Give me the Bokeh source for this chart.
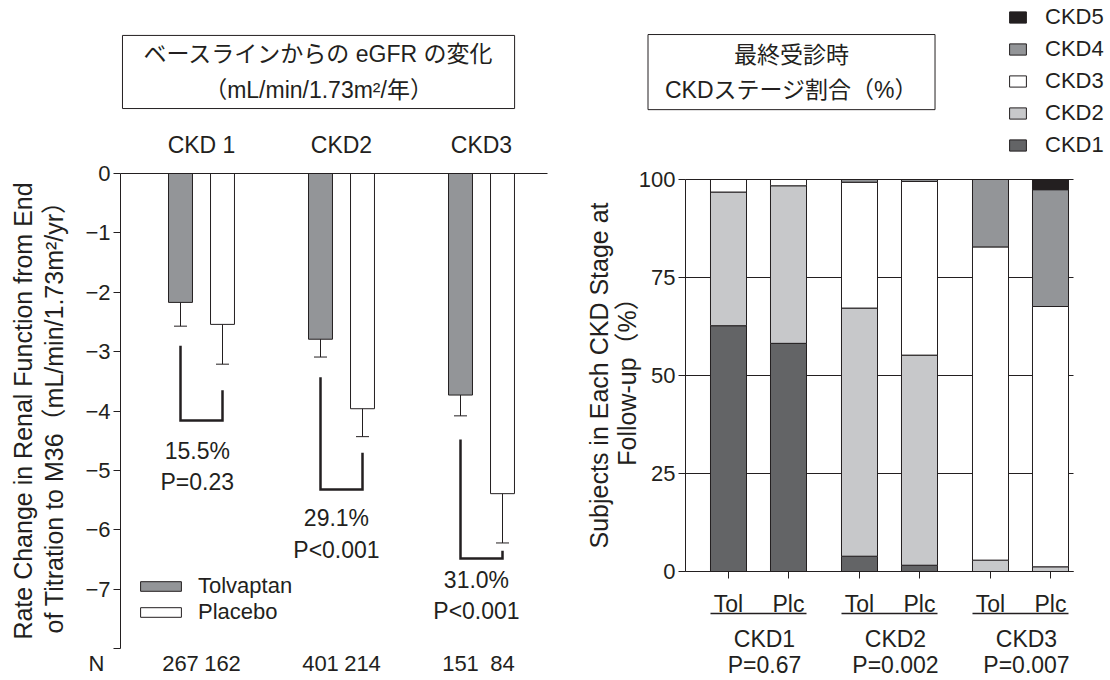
from bokeh.plotting import figure
from bokeh.models import (Range1d, FixedTicker, Whisker, TeeHead, ColumnDataSource,
                          Legend, LegendItem, Label, LabelSet)
from bokeh.layouts import row
from bokeh.embed import file_html
from bokeh.resources import INLINE
from bokeh.core.properties import value

# ---------------- data: left panel (eGFR slope) ----------------
groups_left = ["CKD 1", "CKD2", "CKD3"]
tol_mean = [-2.17, -2.79, -3.73]
tol_err_hi = [-1.72, -2.47, -3.26]
tol_err_lo = [-2.57, -3.09, -4.08]
plc_mean = [-2.54, -3.96, -5.39]
plc_err_hi = [-1.94, -3.36, -4.56]
plc_err_lo = [-3.21, -4.43, -6.22]
n_tol = ["267", "401", "151"]
n_plc = ["162", "214", "84"]
reduction = ["15.5%", "29.1%", "31.0%"]
p_left = ["P=0.23", "P<0.001", "P<0.001"]
bracket_tol_top = [-2.90, -3.43, -4.48]
bracket_bottom = [-4.16, -5.32, -6.48]
bracket_plc_top = [-3.65, -4.70, -6.35]
left_yticks = [0, -1, -2, -3, -4, -5, -6, -7, -8]
left_ytick_labels = ["0", "\u22121", "\u22122", "\u22123", "\u22124", "\u22125", "\u22126", "\u22127", ""]

# ---------------- data: right panel (CKD stage at follow-up, %) ----------------
stages = ["CKD1", "CKD2", "CKD3", "CKD4", "CKD5"]
arms = ["Tol", "Plc"]
groups_right = ["CKD1", "CKD2", "CKD3"]
p_right = ["P=0.67", "P=0.002", "P=0.007"]
#          CKD1-Tol CKD1-Plc CKD2-Tol CKD2-Plc CKD3-Tol CKD3-Plc
ckd1 = [62.7, 58.2, 3.9, 1.6, 0.0, 0.0]
ckd2 = [34.1, 40.2, 63.3, 53.6, 2.9, 1.2]
ckd3 = [3.2, 1.6, 32.1, 44.3, 79.9, 66.4]
ckd4 = [0.0, 0.0, 0.7, 0.5, 17.2, 29.8]
ckd5 = [0.0, 0.0, 0.0, 0.0, 0.0, 2.6]
right_yticks = [0, 25, 50, 75, 100]

# ---------------- styles ----------------
FONT = "'Liberation Sans', 'Noto Sans CJK JP', sans-serif"
INK = "#231f20"
TOL_GREY = "#939598"
stage_colors = ["#636466", "#c7c8ca", "#ffffff", "#939598", "#231f20"]
H = 680


def style_axis(ax, tick_out, label_size="22px", standoff=3):
    ax.major_tick_out = tick_out
    ax.major_tick_in = 0
    ax.minor_tick_out = 0
    ax.minor_tick_in = 0
    ax.axis_line_color = INK
    ax.axis_line_width = 1
    ax.major_tick_line_color = INK
    ax.major_label_standoff = standoff
    ax.major_label_text_font = FONT
    ax.major_label_text_font_size = label_size
    ax.major_label_text_color = INK


# =============== LEFT FIGURE ===============
W1 = 568
off_l = 0.15
bw_l = 0.171
gl = list(range(len(groups_left)))
x_tol = [g - off_l for g in gl]
x_plc = [g + off_l for g in gl]
L_X0, L_X1 = -0.5786, 2.4714          # extent of the drawn axes (x)
L_PX, L_CX = 140.0, 201.0             # px per group, pixel of group 0
L_PY, L_ZY = 59.4, 173.0              # px per unit, pixel of y = 0

p1 = figure(width=W1, height=H,
            x_range=Range1d(-L_CX / L_PX, (W1 - L_CX) / L_PX),
            y_range=Range1d(-(H - L_ZY) / L_PY, L_ZY / L_PY),
            x_axis_location="above", output_backend="svg", toolbar_location=None,
            min_border_left=0, min_border_right=0, min_border_top=0, min_border_bottom=0)
p1.grid.visible = False
p1.outline_line_color = None

r_tol = p1.vbar(x=x_tol, top=0, bottom=tol_mean, width=bw_l, fill_color=TOL_GREY,
                line_color=INK, line_width=1)
r_plc = p1.vbar(x=x_plc, top=0, bottom=plc_mean, width=bw_l, fill_color="white",
                line_color=INK, line_width=1)

wsrc = ColumnDataSource(dict(base=x_tol + x_plc, upper=tol_err_hi + plc_err_hi,
                             lower=tol_err_lo + plc_err_lo))
p1.add_layout(Whisker(source=wsrc, base="base", upper="upper", lower="lower",
                      line_color=INK, line_width=1,
                      upper_head=TeeHead(size=13, line_color=INK, line_width=1),
                      lower_head=TeeHead(size=13, line_color=INK, line_width=1)))

bxs = [[x_tol[i], x_tol[i], x_plc[i], x_plc[i]] for i in gl]
bys = [[bracket_tol_top[i], bracket_bottom[i], bracket_bottom[i], bracket_plc_top[i]] for i in gl]
p1.multi_line(bxs, bys, line_color=INK, line_width=2.5, line_join="miter")

ann_dx = [-0.03, -0.036, -0.036]
ann_y = [-4.93, -6.07, -7.11]
for i in gl:
    p1.add_layout(Label(x=gl[i] + ann_dx[i], y=ann_y[i], text=f"{reduction[i]}\n{p_left[i]}",
                        text_align="center", text_baseline="middle", text_font=FONT,
                        text_font_size="23px", text_color=INK, text_line_height=1.2))

nsrc = ColumnDataSource(dict(x=x_tol + x_plc, y=[-8] * 6, t=n_tol + n_plc))
p1.add_layout(LabelSet(source=nsrc, x="x", y="y", text="t", y_offset=-15,
                       text_align="center", text_baseline="middle", text_font=value(FONT),
                       text_font_size="22px", text_color=INK))
p1.add_layout(Label(x=-0.75, y=-8, y_offset=-15, text="N", text_align="center",
                    text_baseline="middle", text_font=FONT, text_font_size="22px", text_color=INK))

p1.add_layout(Label(x=0.836, y=1.709, text="ベースラインからの eGFR の変化\n（mL/min/1.73m²/年）",
                    text_align="center", text_baseline="middle", text_font=FONT,
                    text_font_size="23px", text_color=INK, text_line_height=1.35,
                    border_line_color=INK, border_line_width=1, background_fill_color="white",
                    padding=dict(left=21, right=21, top=6, bottom=6)))

xa = p1.xaxis[0]
xa.fixed_location = 0
xa.bounds = (L_X0, L_X1)
xa.ticker = FixedTicker(ticks=gl)
xa.major_label_overrides = {g: name for g, name in zip(gl, groups_left)}
style_axis(xa, 0, "23px", 16)
xa.major_tick_line_color = None

ya = p1.yaxis[0]
ya.fixed_location = L_X0
ya.bounds = (-8, 0)
ya.ticker = FixedTicker(ticks=left_yticks)
ya.major_label_overrides = {t: s for t, s in zip(left_yticks, left_ytick_labels)}
style_axis(ya, 7, "22px", 3)
ya.axis_label = "Rate Change in Renal Function from End\nof Titration to M36（mL/min/1.73m²/yr）"
ya.axis_label_text_font = FONT
ya.axis_label_text_font_size = "25px"
ya.axis_label_text_font_style = "normal"
ya.axis_label_text_color = INK
ya.axis_label_standoff = 14
ya.axis_label_text_line_height = 1.12

leg1 = Legend(items=[LegendItem(label="Tolvaptan", renderers=[r_tol]),
                     LegendItem(label="Placebo", renderers=[r_plc])],
              location=(135, 55), glyph_width=51, glyph_height=12, label_standoff=12,
              spacing=0, padding=0, margin=0, border_line_color=None, background_fill_alpha=0,
              label_text_font=FONT, label_text_font_size="22px", label_text_color=INK)
p1.add_layout(leg1)

# =============== RIGHT FIGURE ===============
W2 = 1110 - W1
off_r = 0.229
bw_r = 0.275
gr = list(range(len(groups_right)))
xpos = [g + d for g in gr for d in (-off_r, off_r)]
R_X0, R_X1 = -0.5573, 2.4046          # extent of the drawn axes (x)
R_PX, R_CX = 131.0, 758.0 - W1        # px per group, pixel of group 0 (in this canvas)
R_PY, R_ZY = 3.92, 571.0              # px per percent, pixel of y = 0

p2 = figure(width=W2, height=H,
            x_range=Range1d(-R_CX / R_PX, (W2 - R_CX) / R_PX),
            y_range=Range1d(-(H - R_ZY) / R_PY, R_ZY / R_PY),
            output_backend="svg", toolbar_location=None,
            min_border_left=0, min_border_right=0, min_border_top=0, min_border_bottom=0)
p2.outline_line_color = None
p2.grid.visible = False

p2.segment(x0=[R_X0] * len(right_yticks), x1=[R_X1] * len(right_yticks),
           y0=right_yticks, y1=right_yticks, line_color=INK, line_width=1)

src = ColumnDataSource(dict(x=xpos, CKD1=ckd1, CKD2=ckd2, CKD3=ckd3, CKD4=ckd4, CKD5=ckd5))
rs = p2.vbar_stack(stages, x="x", width=bw_r, source=src, fill_color=stage_colors,
                   line_color=INK, line_width=1)

leg2 = Legend(items=[LegendItem(label=s, renderers=[r]) for s, r in reversed(list(zip(stages, rs)))],
              location=(1007 - W1, 522), glyph_width=21, glyph_height=14, label_standoff=17,
              spacing=6, padding=0, margin=0, border_line_color=None, background_fill_alpha=0,
              label_text_font=FONT, label_text_font_size="22px", label_text_color=INK)
p2.add_layout(leg2)

xb = p2.xaxis[0]
xb.fixed_location = 0
xb.bounds = (R_X0, R_X1)
xb.ticker = FixedTicker(ticks=xpos)
xb.major_label_overrides = {x: a for x, a in zip(xpos, arms * len(gr))}
style_axis(xb, 7, "23px", 12)

yb = p2.yaxis[0]
yb.fixed_location = R_X0
yb.bounds = (0, 100)
yb.ticker = FixedTicker(ticks=right_yticks)
style_axis(yb, 7, "22px", 3)
yb.axis_label = "Subjects in Each CKD Stage at\nFollow-up（%）"
yb.axis_label_text_font = FONT
yb.axis_label_text_font_size = "25px"
yb.axis_label_text_font_style = "normal"
yb.axis_label_text_color = INK
yb.axis_label_standoff = -5
yb.axis_label_text_line_height = 1.0

half_span = off_r + bw_r / 2
p2.segment(x0=[g - half_span for g in gr], x1=[g + half_span for g in gr],
           y0=[-10.7] * len(gr), y1=[-10.7] * len(gr), line_color=INK, line_width=1.5)

gsrc = ColumnDataSource(dict(x=gr, y=[0] * len(gr), name=groups_right, p=p_right))
p2.add_layout(LabelSet(source=gsrc, x="x", y="y", text="name", x_offset=6, y_offset=-67,
                       text_align="center", text_baseline="middle", text_font=value(FONT),
                       text_font_size="23px", text_color=INK))
p2.add_layout(LabelSet(source=gsrc, x="x", y="y", text="p", x_offset=6, y_offset=-93,
                       text_align="center", text_baseline="middle", text_font=value(FONT),
                       text_font_size="23px", text_color=INK))

p2.add_layout(Label(x=0.252, y=127.4, text="最終受診時\nCKDステージ割合（%）",
                    text_align="center", text_baseline="middle", text_font=FONT,
                    text_font_size="23px", text_color=INK, text_line_height=1.35,
                    border_line_color=INK, border_line_width=1, background_fill_color="white",
                    padding=dict(left=17, right=17, top=7, bottom=7)))

layout = row(p1, p2)
open("out.html", "w").write(file_html(layout, INLINE))
